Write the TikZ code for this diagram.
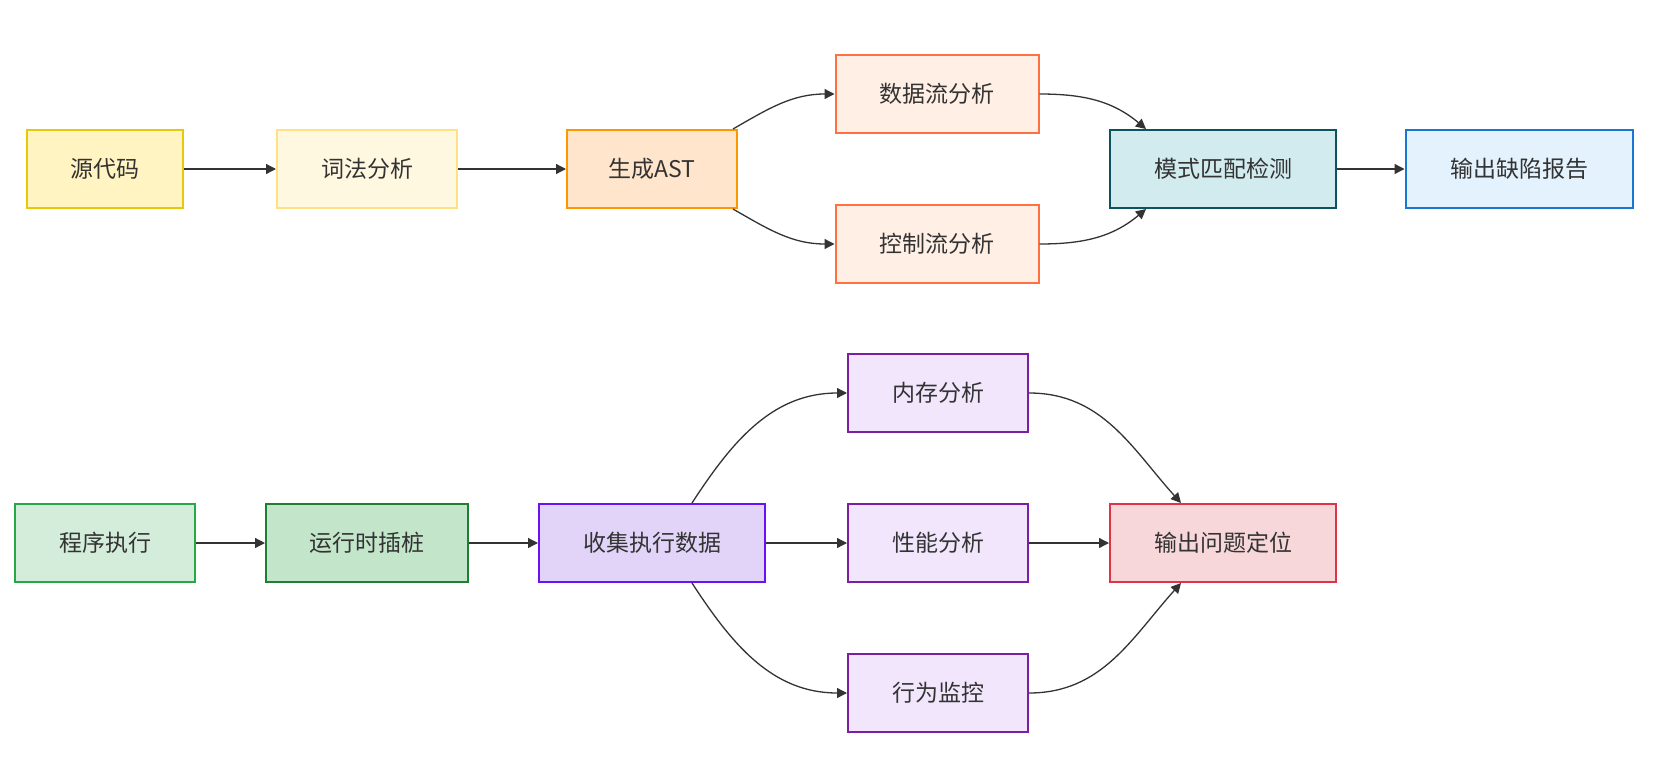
\documentclass[tikz,border=0pt]{standalone}
\usepackage{fontspec}
\setmainfont{Noto Sans CJK SC}
\usepackage{xcolor}
\usepackage{tikz}
\usetikzlibrary{arrows.meta, positioning, calc}
\definecolor{Ink}{HTML}{333333}
\definecolor{SourceFill}{HTML}{FFF4C2}
\definecolor{SourceLine}{HTML}{E8C90A}
\definecolor{LexFill}{HTML}{FFF8E1}
\definecolor{LexLine}{HTML}{FFE082}
\definecolor{AstFill}{HTML}{FFE5CC}
\definecolor{AstLine}{HTML}{FF9800}
\definecolor{FlowFill}{HTML}{FFEFE5}
\definecolor{FlowLine}{HTML}{FF7043}
\definecolor{MatchFill}{HTML}{D2EBEE}
\definecolor{MatchLine}{HTML}{0B535E}
\definecolor{ReportFill}{HTML}{E3F2FD}
\definecolor{ReportLine}{HTML}{1976D2}
\definecolor{RunFill}{HTML}{D4EDDA}
\definecolor{RunLine}{HTML}{28A745}
\definecolor{ProbeFill}{HTML}{C3E6CB}
\definecolor{ProbeLine}{HTML}{1E7E34}
\definecolor{CollectFill}{HTML}{E1D4F8}
\definecolor{CollectLine}{HTML}{6A12F5}
\definecolor{AnalyseFill}{HTML}{F1E6FC}
\definecolor{AnalyseLine}{HTML}{7B1FA2}
\definecolor{LocateFill}{HTML}{F8D7DA}
\definecolor{LocateLine}{HTML}{DC3545}

\begin{document}
\begin{tikzpicture}[x=1pt, y=1pt,
    every node/.style={font=\fontsize{23pt}{27pt}\selectfont, text=Ink},
    stage/.style={draw, line width=2pt, minimum height=78pt, inner sep=0pt},
    flow/.style={draw=Ink, line width=1.3pt, -{Triangle[length=10pt, width=10pt]}}]
  \useasboundingbox (0,0) rectangle (1668,-758);

  % static analysis
  \node[stage, draw=SourceLine, fill=SourceFill, minimum width=156pt] (src) at (105,-169) {源代码};
  \node[stage, draw=LexLine, fill=LexFill, minimum width=180pt] (lex) at (367,-169) {词法分析};
  \node[stage, draw=AstLine, fill=AstFill, minimum width=170pt] (ast) at (652,-169) {生成AST};
  \node[stage, draw=FlowLine, fill=FlowFill, minimum width=203pt] (dfa) at (937,-94) {数据流分析};
  \node[stage, draw=FlowLine, fill=FlowFill, minimum width=203pt] (cfa) at (937,-244) {控制流分析};
  \node[stage, draw=MatchLine, fill=MatchFill, minimum width=226pt] (match) at (1223,-169) {模式匹配检测};
  \node[stage, draw=ReportLine, fill=ReportFill, minimum width=227pt] (report) at (1519,-169) {输出缺陷报告};

  \draw[flow] (src) -- (lex);
  \draw[flow] (lex) -- (ast);
  \draw[flow] ([xshift=-5pt]ast.north east) to[out=30, in=180] (dfa.west);
  \draw[flow] ([xshift=-5pt]ast.south east) to[out=-30, in=180] (cfa.west);
  \draw[flow] (dfa.east) to[out=0, in=140] ([xshift=-77pt]match.north);
  \draw[flow] (cfa.east) to[out=0, in=-140] ([xshift=-77pt]match.south);
  \draw[flow] (match) -- (report);

  % dynamic analysis
  \node[stage, draw=RunLine, fill=RunFill, minimum width=180pt] (run) at (105,-543) {程序执行};
  \node[stage, draw=ProbeLine, fill=ProbeFill, minimum width=202pt] (probe) at (367,-543) {运行时插桩};
  \node[stage, draw=CollectLine, fill=CollectFill, minimum width=226pt] (collect) at (652,-543) {收集执行数据};
  \node[stage, draw=AnalyseLine, fill=AnalyseFill, minimum width=180pt] (mem) at (938,-393) {内存分析};
  \node[stage, draw=AnalyseLine, fill=AnalyseFill, minimum width=180pt] (perf) at (938,-543) {性能分析};
  \node[stage, draw=AnalyseLine, fill=AnalyseFill, minimum width=180pt] (watch) at (938,-693) {行为监控};
  \node[stage, draw=LocateLine, fill=LocateFill, minimum width=226pt] (locate) at (1223,-543) {输出问题定位};

  \draw[flow] (run) -- (probe);
  \draw[flow] (probe) -- (collect);
  \draw[flow] ([xshift=40pt]collect.north) to[out=57, in=180] (mem.west);
  \draw[flow] (collect) -- (perf);
  \draw[flow] ([xshift=40pt]collect.south) to[out=-57, in=180] (watch.west);
  \draw[flow] (mem.east) to[out=0, in=132] ([xshift=-42pt]locate.north);
  \draw[flow] (perf) -- (locate);
  \draw[flow] (watch.east) to[out=0, in=-132] ([xshift=-42pt]locate.south);
\end{tikzpicture}
\end{document}
